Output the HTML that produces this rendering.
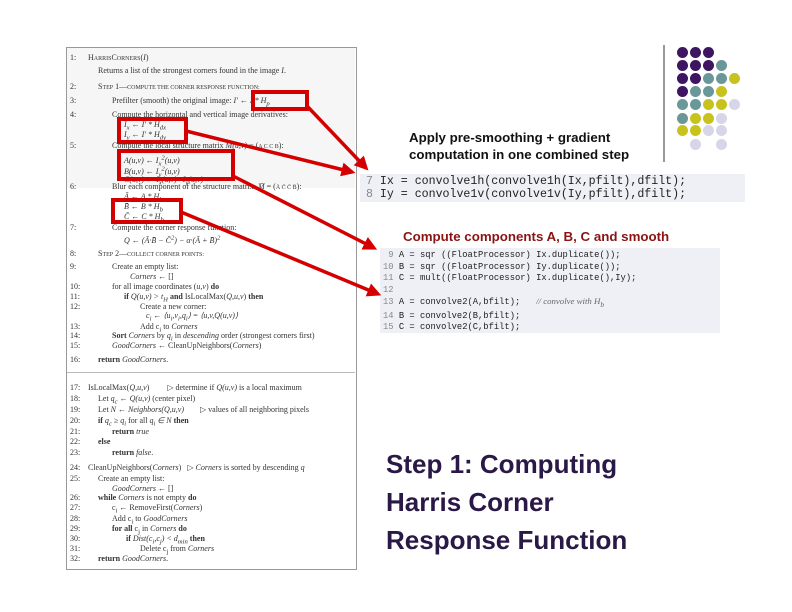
<!DOCTYPE html>
<html><head><meta charset="utf-8"><style>
body{margin:0;width:792px;height:612px;background:#fff;position:relative;overflow:hidden;font-family:"Liberation Serif",serif}
.t{position:absolute;font-size:8px;color:#333;white-space:nowrap;line-height:9px}
.n{position:absolute;font-size:8px;color:#333;left:70px;line-height:9px}
.c{position:absolute;font-family:"Liberation Mono",monospace;color:#222;white-space:nowrap}
.dot{position:absolute;width:11px;height:11px;border-radius:50%}
</style></head><body>
<div style="position:absolute;left:66px;top:47px;width:289px;height:521px;border:1px solid #999;background:#fff"></div>
<div style="position:absolute;left:67px;top:48px;width:288px;height:140px;background:#f6f6f6"></div>
<div style="position:absolute;left:67px;top:372px;width:288px;height:1px;background:#bbb"></div>

<div class="n" style="top:53px">1:</div><div class="t" style="left:88px;top:53px">H<span style="font-size:6px">ARRIS</span>C<span style="font-size:6px">ORNERS</span>(<i>I</i>)</div>
<div class="t" style="left:98px;top:66px">Returns a list of the strongest corners found in the image <i>I</i>.</div>
<div class="n" style="top:82px">2:</div><div class="t" style="left:98px;top:82px">S<span style="font-size:6px">TEP</span> 1—<span style="font-size:6px">COMPUTE THE CORNER RESPONSE FUNCTION:</span></div>
<div class="n" style="top:96px">3:</div><div class="t" style="left:112px;top:96px">Prefilter (smooth) the original image: <i>I' ← I * H<sub>p</sub></i></div>
<div class="n" style="top:110px">4:</div><div class="t" style="left:112px;top:110px">Compute the horizontal and vertical image derivatives:</div>
<div class="t" style="left:124px;top:120px"><i>I<sub>x</sub> ← I' * H<sub>dx</sub></i></div>
<div class="t" style="left:124px;top:130px"><i>I<sub>y</sub> ← I' * H<sub>dy</sub></i></div>
<div class="n" style="top:141px">5:</div><div class="t" style="left:112px;top:141px">Compute the local structure matrix <i>M(u,v)</i> = (<span style="font-size:6px">A C C B</span>):</div>
<div class="t" style="left:124px;top:153px"><i>A(u,v) ← I<sub>x</sub><sup>2</sup>(u,v)</i></div>
<div class="t" style="left:124px;top:164px"><i>B(u,v) ← I<sub>y</sub><sup>2</sup>(u,v)</i></div>
<div class="t" style="left:124px;top:175px"><i>C(u,v) ← I<sub>x</sub>(u,v) · I<sub>y</sub>(u,v)</i></div>
<div class="n" style="top:182px">6:</div><div class="t" style="left:112px;top:182px">Blur each component of the structure matrix: <i>M̄</i> = (<span style="font-size:6px">Ā C̄ C̄ B̄</span>):</div>
<div class="t" style="left:124px;top:192px"><i>Ā ← A * H<sub>b</sub></i></div>
<div class="t" style="left:124px;top:202px"><i>B̄ ← B * H<sub>b</sub></i></div>
<div class="t" style="left:124px;top:212px"><i>C̄ ← C * H<sub>b</sub></i></div>
<div class="n" style="top:223px">7:</div><div class="t" style="left:112px;top:223px">Compute the corner response function:</div>
<div class="t" style="left:124px;top:233px"><i>Q ← (Ā·B̄ − C̄<sup>2</sup>) − α·(Ā + B̄)<sup>2</sup></i></div>
<div class="n" style="top:249px">8:</div><div class="t" style="left:98px;top:249px">S<span style="font-size:6px">TEP</span> 2—<span style="font-size:6px">COLLECT CORNER POINTS:</span></div>
<div class="n" style="top:262px">9:</div><div class="t" style="left:112px;top:262px">Create an empty list:</div>
<div class="t" style="left:130px;top:272px"><i>Corners</i> ← []</div>
<div class="n" style="top:282px">10:</div><div class="t" style="left:112px;top:282px">for all image coordinates (<i>u,v</i>) <b>do</b></div>
<div class="n" style="top:292px">11:</div><div class="t" style="left:124px;top:292px"><b>if</b> <i>Q(u,v) &gt; t<sub>H</sub></i> <b>and</b> IsLocalMax(<i>Q,u,v</i>) <b>then</b></div>
<div class="n" style="top:302px">12:</div><div class="t" style="left:140px;top:302px">Create a new corner:</div>
<div class="t" style="left:146px;top:311px"><i>c<sub>i</sub> ← ⟨u<sub>i</sub>,v<sub>i</sub>,q<sub>i</sub>⟩ = ⟨u,v,Q(u,v)⟩</i></div>
<div class="n" style="top:322px">13:</div><div class="t" style="left:140px;top:322px">Add c<sub>i</sub> to <i>Corners</i></div>
<div class="n" style="top:331px">14:</div><div class="t" style="left:112px;top:331px"><b>Sort</b> <i>Corners</i> by <i>q<sub>i</sub></i> in <i>descending</i> order (strongest corners first)</div>
<div class="n" style="top:341px">15:</div><div class="t" style="left:112px;top:341px"><i>GoodCorners</i> ← CleanUpNeighbors(<i>Corners</i>)</div>
<div class="n" style="top:355px">16:</div><div class="t" style="left:98px;top:355px"><b>return</b> <i>GoodCorners</i>.</div>
<div class="n" style="top:383px">17:</div><div class="t" style="left:88px;top:383px">IsLocalMax(<i>Q,u,v</i>) &nbsp;&nbsp;&nbsp;&nbsp;&nbsp;&nbsp;&nbsp; ▷ determine if <i>Q(u,v)</i> is a local maximum</div>
<div class="n" style="top:394px">18:</div><div class="t" style="left:98px;top:394px">Let <i>q<sub>c</sub> ← Q(u,v)</i> (center pixel)</div>
<div class="n" style="top:405px">19:</div><div class="t" style="left:98px;top:405px">Let <i>N ← Neighbors(Q,u,v)</i> &nbsp;&nbsp;&nbsp;&nbsp;&nbsp;&nbsp; ▷ values of all neighboring pixels</div>
<div class="n" style="top:416px">20:</div><div class="t" style="left:98px;top:416px"><b>if</b> <i>q<sub>c</sub> ≥ q<sub>i</sub></i> for all <i>q<sub>i</sub> ∈ N</i> <b>then</b></div>
<div class="n" style="top:427px">21:</div><div class="t" style="left:112px;top:427px"><b>return</b> <i>true</i></div>
<div class="n" style="top:437px">22:</div><div class="t" style="left:98px;top:437px"><b>else</b></div>
<div class="n" style="top:448px">23:</div><div class="t" style="left:112px;top:448px"><b>return</b> <i>false</i>.</div>
<div class="n" style="top:463px">24:</div><div class="t" style="left:88px;top:463px">CleanUpNeighbors(<i>Corners</i>) &nbsp; ▷ <i>Corners</i> is sorted by descending <i>q</i></div>
<div class="n" style="top:474px">25:</div><div class="t" style="left:98px;top:474px">Create an empty list:</div>
<div class="t" style="left:112px;top:484px"><i>GoodCorners</i> ← []</div>
<div class="n" style="top:493px">26:</div><div class="t" style="left:98px;top:493px"><b>while</b> <i>Corners</i> is not empty <b>do</b></div>
<div class="n" style="top:503px">27:</div><div class="t" style="left:112px;top:503px">c<sub>i</sub> ← RemoveFirst(<i>Corners</i>)</div>
<div class="n" style="top:514px">28:</div><div class="t" style="left:112px;top:514px">Add c<sub>i</sub> to <i>GoodCorners</i></div>
<div class="n" style="top:524px">29:</div><div class="t" style="left:112px;top:524px"><b>for all</b> c<sub>j</sub> in <i>Corners</i> <b>do</b></div>
<div class="n" style="top:534px">30:</div><div class="t" style="left:126px;top:534px"><b>if</b> <i>Dist(c<sub>i</sub>,c<sub>j</sub>) &lt; d<sub>min</sub></i> <b>then</b></div>
<div class="n" style="top:544px">31:</div><div class="t" style="left:140px;top:544px">Delete c<sub>j</sub> from <i>Corners</i></div>
<div class="n" style="top:554px">32:</div><div class="t" style="left:98px;top:554px"><b>return</b> <i>GoodCorners</i>.</div>

<div style="position:absolute;left:360px;top:174px;width:385px;height:28px;background:#eef0f6"></div>
<div class="c" style="left:366px;top:175px;font-size:11.6px;line-height:13px"><span style="color:#888">7</span> Ix = convolve1h(convolve1h(Ix,pfilt),dfilt);<br><span style="color:#888">8</span> Iy = convolve1v(convolve1v(Iy,pfilt),dfilt);</div>
<div style="position:absolute;left:380px;top:248px;width:340px;height:85px;background:#eef0f6"></div>
<div class="c" style="left:383px;top:250px;font-size:8.8px;line-height:11.6px"><span style="color:#888">&nbsp;9</span> A = sqr ((FloatProcessor) Ix.duplicate());<br><span style="color:#888">10</span> B = sqr ((FloatProcessor) Iy.duplicate());<br><span style="color:#888">11</span> C = mult((FloatProcessor) Ix.duplicate(),Iy);<br><span style="color:#888">12</span><br><span style="color:#888">13</span> A = convolve2(A,bfilt); &nbsp;&nbsp;<i style="font-family:'Liberation Serif',serif;color:#666">// convolve with H<sub>b</sub></i><br><span style="color:#888">14</span> B = convolve2(B,bfilt);<br><span style="color:#888">15</span> C = convolve2(C,bfilt);</div>

<div style="position:absolute;left:409px;top:129px;font-family:'Liberation Sans',sans-serif;font-size:13.3px;font-weight:bold;line-height:17px;color:#111">Apply pre-smoothing + gradient<br>computation in one combined step</div>
<div style="position:absolute;left:403px;top:229px;font-family:'Liberation Sans',sans-serif;font-size:13.3px;font-weight:bold;color:#8a1414">Compute components A, B, C and smooth</div>
<div style="position:absolute;left:386px;top:445px;font-family:'Liberation Sans',sans-serif;font-size:26px;font-weight:bold;line-height:38px;color:#2a1846">Step 1: Computing<br>Harris Corner<br>Response Function</div>

<svg style="position:absolute;left:0;top:0" width="792" height="612">
<defs><marker id="a" markerWidth="4" markerHeight="4" refX="3" refY="2" orient="auto"><path d="M0,0L4,2L0,4z" fill="#d40000"/></marker></defs>
<g fill="none" stroke="#d40000" stroke-width="4">
<rect x="253" y="92" width="54" height="17"/>
<rect x="119" y="119" width="67" height="23"/>
<rect x="119" y="151" width="114" height="28"/>
<rect x="113" y="200" width="68" height="22"/>
<g stroke-width="3.5" marker-end="url(#a)">
<line x1="307" y1="106" x2="366" y2="168"/>
<line x1="186" y1="131" x2="352" y2="172"/>
<line x1="233" y1="176" x2="374" y2="248"/>
<line x1="181" y1="212" x2="378" y2="294"/>
</g></g>
<line x1="664" y1="45" x2="664" y2="162" stroke="#333" stroke-width="1"/>
</svg>

<div class="dot" style="left:677px;top:47px;background:#3d1560"></div><div class="dot" style="left:690px;top:47px;background:#3d1560"></div><div class="dot" style="left:703px;top:47px;background:#3d1560"></div>
<div class="dot" style="left:677px;top:60px;background:#3d1560"></div><div class="dot" style="left:690px;top:60px;background:#3d1560"></div><div class="dot" style="left:703px;top:60px;background:#3d1560"></div><div class="dot" style="left:716px;top:60px;background:#6a9898"></div>
<div class="dot" style="left:677px;top:73px;background:#3d1560"></div><div class="dot" style="left:690px;top:73px;background:#3d1560"></div><div class="dot" style="left:703px;top:73px;background:#6a9898"></div><div class="dot" style="left:716px;top:73px;background:#6a9898"></div><div class="dot" style="left:729px;top:73px;background:#c8c31c"></div>
<div class="dot" style="left:677px;top:86px;background:#3d1560"></div><div class="dot" style="left:690px;top:86px;background:#6a9898"></div><div class="dot" style="left:703px;top:86px;background:#6a9898"></div><div class="dot" style="left:716px;top:86px;background:#c8c31c"></div>
<div class="dot" style="left:677px;top:99px;background:#6a9898"></div><div class="dot" style="left:690px;top:99px;background:#6a9898"></div><div class="dot" style="left:703px;top:99px;background:#c8c31c"></div><div class="dot" style="left:716px;top:99px;background:#c8c31c"></div><div class="dot" style="left:729px;top:99px;background:#d6d6e8"></div>
<div class="dot" style="left:677px;top:113px;background:#6a9898"></div><div class="dot" style="left:690px;top:113px;background:#c8c31c"></div><div class="dot" style="left:703px;top:113px;background:#c8c31c"></div><div class="dot" style="left:716px;top:113px;background:#d6d6e8"></div>
<div class="dot" style="left:677px;top:125px;background:#c8c31c"></div><div class="dot" style="left:690px;top:125px;background:#c8c31c"></div><div class="dot" style="left:703px;top:125px;background:#d6d6e8"></div><div class="dot" style="left:716px;top:125px;background:#d6d6e8"></div>
<div class="dot" style="left:690px;top:139px;background:#d6d6e8"></div><div class="dot" style="left:716px;top:139px;background:#d6d6e8"></div>
</body></html>
